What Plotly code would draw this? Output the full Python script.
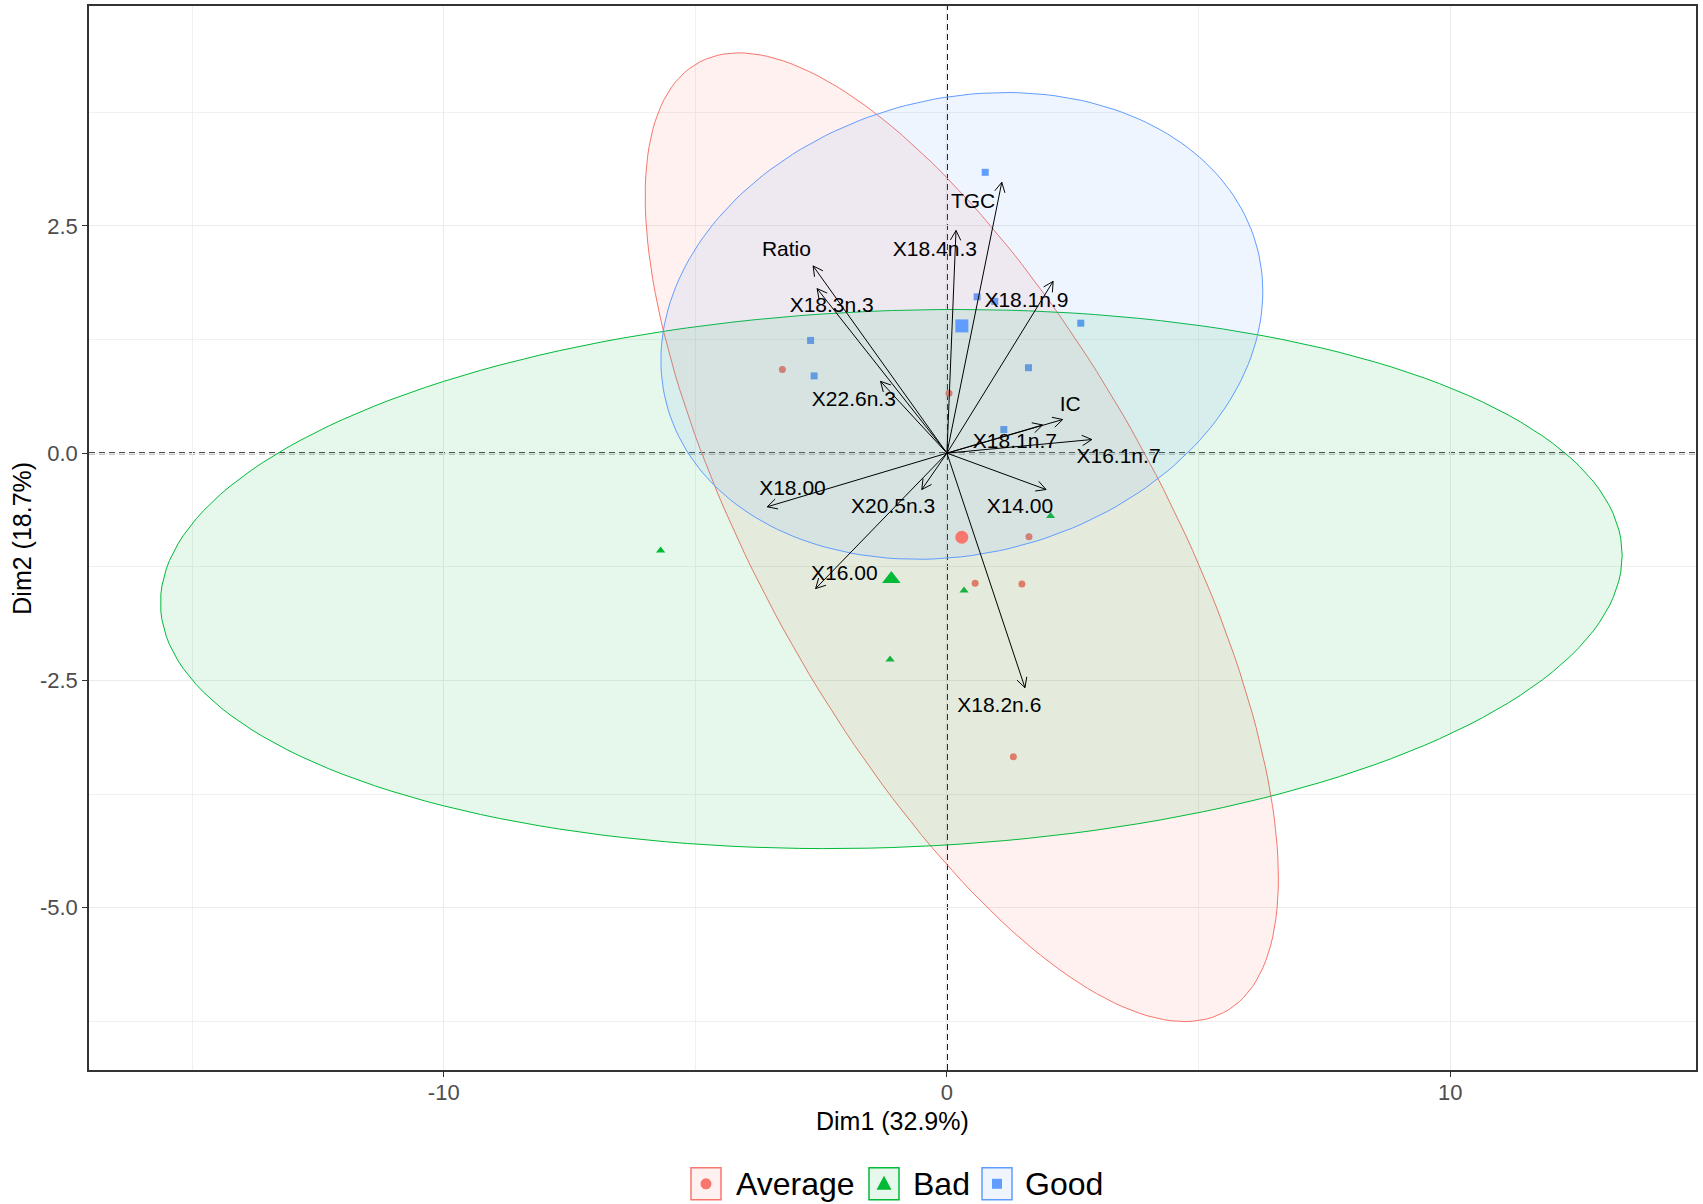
import numpy as np
import plotly.graph_objects as go

# ---------------- data ----------------
groups = ["Average", "Bad", "Good"]
group_colors = ["#F8766D", "#00BA38", "#619CFF"]

avg_x = [-3.27, 0.04, 1.63, 0.56, 1.49, 1.32]
avg_y = [0.92, 0.66, -0.92, -1.43, -1.44, -3.34]
bad_x = [-5.69, 0.34, -1.13, 2.06]
bad_y = [-1.07, -1.51, -2.27, -0.69]
good_x = [0.76, 0.60, 0.95, 2.66, -2.71, -2.64, 1.62, 1.13]
good_y = [3.09, 1.72, 1.67, 1.43, 1.24, 0.85, 0.94, 0.26]

var_names = ["TGC", "X18.4n.3", "Ratio", "X18.3n.3", "X18.1n.9", "X22.6n.3", "IC",
             "X18.1n.7", "X16.1n.7", "X18.00", "X20.5n.3", "X14.00", "X16.00", "X18.2n.6"]
var_x = [1.09, 0.18, -2.66, -2.58, 2.11, -1.32, 2.30, 1.90, 2.88, -3.57, -0.50, 1.97, -2.61, 1.55]
var_y = [2.98, 2.45, 2.06, 1.81, 1.89, 0.79, 0.37, 0.31, 0.15, -0.59, -0.40, -0.40, -1.49, -2.58]
label_x = [0.52, -0.24, -3.19, -2.29, 1.58, -1.85, 2.45, 1.35, 3.41, -3.07, -1.07, 1.45, -2.04, 1.04]
label_y = [2.75, 2.23, 2.23, 1.61, 1.67, 0.58, 0.52, 0.11, -0.05, -0.40, -0.60, -0.60, -1.34, -2.79]

x_ticks = [-10, 0, 10]
x_ticktext = ["-10", "0", "10"]
y_ticks = [-5.0, -2.5, 0.0, 2.5]
y_ticktext = ["-5.0", "-2.5", "0.0", "2.5"]
x_minor = [-15, -5, 5, 15]
y_minor = [-6.25, -3.75, -1.25, 1.25, 3.75]

x_title = "Dim1 (32.9%)"
y_title = "Dim2 (18.7%)"

# ---------------- layout geometry ----------------
W, H = 1703, 1204
ML, MR, MT, MB = 89, 7, 4, 134
PW, PH = W - ML - MR, H - MT - MB
XR = [-17.05, 14.886]
YR = [-6.7864, 4.9196]
SX = PW / (XR[1] - XR[0])
SY = PH / (YR[1] - YR[0])

FONT = "Arial, Liberation Sans, sans-serif"


def rgba(hexc, a):
    h = hexc.lstrip("#")
    r, g, b = int(h[0:2], 16), int(h[2:4], 16), int(h[4:6], 16)
    return f"rgba({r},{g},{b},{a})"


def ellipse(xs, ys, level=0.95, segments=200):
    pts = np.column_stack([xs, ys]).astype(float)
    n = len(pts)
    c = pts.mean(axis=0)
    cov = np.cov(pts.T)
    d = n - 1
    qf = (d / 2.0) * ((1 - level) ** (-2.0 / d) - 1)  # F(2, d) quantile
    r = np.sqrt(2 * qf)
    t = np.linspace(0, 2 * np.pi, segments + 1)
    u = np.column_stack([np.cos(t), np.sin(t)])
    L = np.linalg.cholesky(cov)
    e = c + r * u @ L.T
    return e[:, 0], e[:, 1], c


fig = go.Figure()

data_groups = [(avg_x, avg_y), (bad_x, bad_y), (good_x, good_y)]
symbols = ["circle", "triangle-up", "square"]
small_sizes = [7, 8, 7]
mean_sizes = [13, 16, 13]

# individual points
for (gx, gy), col, sym, sz in zip(data_groups, group_colors, symbols, small_sizes):
    fig.add_trace(go.Scatter(x=gx, y=gy, mode="markers",
                             marker=dict(symbol=sym, size=sz, color=col, line=dict(width=0)),
                             showlegend=False, hoverinfo="skip"))

# ellipses
centers = []
for (gx, gy), col in zip(data_groups, group_colors):
    ex, ey, c = ellipse(gx, gy)
    centers.append(c)
    fig.add_trace(go.Scatter(x=ex, y=ey, mode="lines", fill="toself",
                             fillcolor=rgba(col, 0.1), line=dict(color=col, width=1),
                             showlegend=False, hoverinfo="skip"))

# group means
for c, col, sym, sz in zip(centers, group_colors, symbols, mean_sizes):
    fig.add_trace(go.Scatter(x=[c[0]], y=[c[1]], mode="markers",
                             marker=dict(symbol=sym, size=sz, color=col, line=dict(width=0)),
                             showlegend=False, hoverinfo="skip"))

# variable arrows (shaft + open head)
ax, ay = [], []
head_len = 11.0
ang = np.deg2rad(28)
for vx, vy in zip(var_x, var_y):
    ax += [0, vx, None]
    ay += [0, vy, None]
    px, py = vx * SX, vy * SY
    nrm = np.hypot(px, py)
    ux, uy = -px / nrm, -py / nrm
    for s in (ang, -ang):
        bx = ux * np.cos(s) - uy * np.sin(s)
        by = ux * np.sin(s) + uy * np.cos(s)
        ax += [vx + bx * head_len / SX, vx, None]
        ay += [vy + by * head_len / SY, vy, None]
fig.add_trace(go.Scatter(x=ax, y=ay, mode="lines", line=dict(color="black", width=1),
                         showlegend=False, hoverinfo="skip"))

fig.add_trace(go.Scatter(x=label_x, y=label_y, mode="text", text=var_names,
                         textposition="middle center",
                         textfont=dict(family=FONT, size=21, color="black"),
                         showlegend=False, hoverinfo="skip"))

# zero lines
fig.add_shape(type="line", xref="x", yref="paper", x0=0, x1=0, y0=0, y1=1,
              line=dict(color="#111111", width=2, dash="6px,4px"), layer="below")
fig.add_shape(type="line", xref="paper", yref="y", x0=0, x1=1, y0=0, y1=0,
              line=dict(color="#111111", width=2, dash="6px,4px"), layer="below")


def pxp(px):
    return (px - ML) / PW


def pyp(py):
    return (MT + PH - py) / PH


# manual legend
leg_y = 1184
box_cx = [706, 884, 997]
text_x = [734, 911, 1023]
for i, (g, col) in enumerate(zip(groups, group_colors)):
    xa, ya = pxp(box_cx[i]), pyp(leg_y)
    fig.add_shape(type="rect", xref="paper", yref="paper", xsizemode="pixel", ysizemode="pixel",
                  xanchor=xa, yanchor=ya, x0=-15, x1=15, y0=-16, y1=16,
                  line=dict(color=col, width=1.5), fillcolor=rgba(col, 0.1))
    if i == 0:
        fig.add_shape(type="circle", xref="paper", yref="paper", xsizemode="pixel", ysizemode="pixel",
                      xanchor=xa, yanchor=ya, x0=-5.5, x1=5.5, y0=-5.5, y1=5.5,
                      line=dict(width=0), fillcolor=col)
    elif i == 1:
        fig.add_shape(type="path", xref="paper", yref="paper", xsizemode="pixel", ysizemode="pixel",
                      xanchor=xa, yanchor=ya, path="M -7.5,-6 L 7.5,-6 L 0,8 Z",
                      line=dict(width=0), fillcolor=col)
    else:
        fig.add_shape(type="rect", xref="paper", yref="paper", xsizemode="pixel", ysizemode="pixel",
                      xanchor=xa, yanchor=ya, x0=-5, x1=5, y0=-5, y1=5,
                      line=dict(width=0), fillcolor=col)
    fig.add_annotation(xref="paper", yref="paper", x=pxp(text_x[i]), y=ya, text=g,
                       showarrow=False, xanchor="left", yanchor="middle",
                       font=dict(family=FONT, size=32, color="black"))

# axis titles
fig.add_annotation(xref="paper", yref="paper", x=0.5, y=pyp(1121), text=x_title,
                   showarrow=False, xanchor="center", yanchor="middle",
                   font=dict(family=FONT, size=25, color="black"))
fig.add_annotation(xref="paper", yref="paper", x=pxp(21.7), y=0.5, text=y_title,
                   showarrow=False, xanchor="center", yanchor="middle", textangle=-90,
                   font=dict(family=FONT, size=25, color="black"))

axis_common = dict(showgrid=True, gridcolor="#EBEBEB", gridwidth=1.2, zeroline=False,
                   showline=True, linecolor="#333333", linewidth=1.5, mirror=True,
                   ticks="outside", ticklen=5, tickwidth=1.2, tickcolor="#333333",
                   tickfont=dict(family=FONT, size=22, color="#4D4D4D"))

fig.update_layout(
    width=W, height=H,
    margin=dict(l=ML, r=MR, t=MT, b=MB),
    paper_bgcolor="white", plot_bgcolor="white",
    showlegend=False,
    xaxis=dict(range=XR, tickvals=x_ticks, ticktext=x_ticktext, ticklabelstandoff=-3,
               minor=dict(tickvals=x_minor, showgrid=True, gridcolor="#F0F0F0", gridwidth=1, ticks=""),
               **axis_common),
    yaxis=dict(range=YR, tickvals=y_ticks, ticktext=y_ticktext,
               minor=dict(tickvals=y_minor, showgrid=True, gridcolor="#F0F0F0", gridwidth=1, ticks=""),
               **axis_common),
)

fig.write_html("out.html", config={"displayModeBar": False},
               post_script="document.body.style.margin='0';document.body.style.overflow='hidden';")
